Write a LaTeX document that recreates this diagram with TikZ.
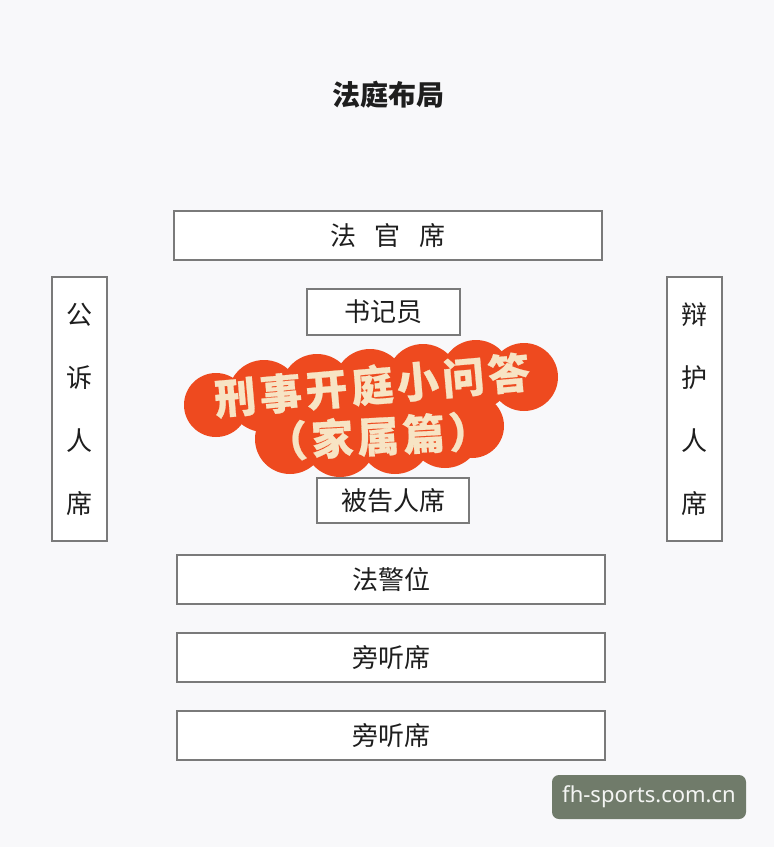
\documentclass[tikz,border=0pt]{standalone}
\usepackage{fontspec}
\setmainfont{Noto Sans}
\newfontfamily\cjk{Noto Sans CJK SC}
\newfontfamily\cjkb{Noto Sans CJK SC}[BoldFeatures={FakeBold=0.6}, LetterSpace=9]
\definecolor{bgc}{HTML}{F8F8FA}
\definecolor{boxline}{HTML}{7A7A7A}
\definecolor{txt}{HTML}{1E1E1E}
\definecolor{cloudred}{HTML}{EE4A1F}
\definecolor{cream}{HTML}{F7E4C4}
\definecolor{wmark}{HTML}{707B6A}
\tikzset{
  seat/.style={draw=boxline, line width=1.6pt, fill=white, inner sep=0pt, text=txt,
     font=\cjk\fontsize{26}{30}\selectfont},
  cloudtxt/.style={text=cream, font=\cjkb\bfseries\fontsize{42}{48}\selectfont, inner sep=0pt},
  puff/.style={fill=cloudred},
}
\begin{document}
\begin{tikzpicture}[x=1pt,y=-1pt]
\fill[bgc] (0,0) rectangle (774,847);
\useasboundingbox (0,0) rectangle (774,847);
% title
\node[text=txt, font=\cjk\bfseries\fontsize{28}{32}\selectfont] (title) at (388,95) {法庭布局};
% seats
\node[seat, minimum width=428pt, minimum height=49pt] (judge) at (388,235.5) {法\hspace{19pt}官\hspace{19pt}席};
\node[seat, minimum width=153pt, minimum height=46pt] (clerk) at (383.5,312) {书记员};
\node[seat, minimum width=55pt, minimum height=264pt, align=center] (pros) at (79.5,409)
  {公\\[33pt]诉\\[33pt]人\\[33pt]席};
\node[seat, minimum width=55pt, minimum height=264pt, align=center] (def) at (694.5,409)
  {辩\\[33pt]护\\[33pt]人\\[33pt]席};
\node[seat, minimum width=152pt, minimum height=45pt] (accused) at (393,500.5) {被告人席};
\node[seat, minimum width=428pt, minimum height=49pt] (police) at (391,579.5) {法警位};
\node[seat, minimum width=428pt, minimum height=49pt] (aud1) at (391,657.5) {旁听席};
\node[seat, minimum width=428pt, minimum height=49pt] (aud2) at (391,735.5) {旁听席};
% red cloud
\fill[puff] (216,405) circle (32);
\fill[puff] (264,396) circle (36);
\fill[puff] (317,390) circle (36);
\fill[puff] (370,385) circle (36);
\fill[puff] (423,380) circle (36);
\fill[puff] (476,375) circle (35);
\fill[puff] (524,377) circle (34);
\fill[puff] (290,439) circle (35);
\fill[puff] (340,441) circle (36);
\fill[puff] (395,438) circle (36);
\fill[puff] (445,432) circle (36);
\fill[puff] (472,426) circle (32);
\node[cloudtxt, rotate=5] (cl1) at (372,385) {刑事开庭小问答};
\node[cloudtxt, rotate=3] (cl2) at (378,436) {（家属篇）};
% watermark
\node[fill=wmark, rounded corners=7pt, minimum width=194pt, minimum height=44pt, inner sep=0pt,
  text=white!92!wmark, font=\fontsize{22}{24}\selectfont] (wm) at (649,797) {fh-sports.com.cn};
\end{tikzpicture}
\end{document}
